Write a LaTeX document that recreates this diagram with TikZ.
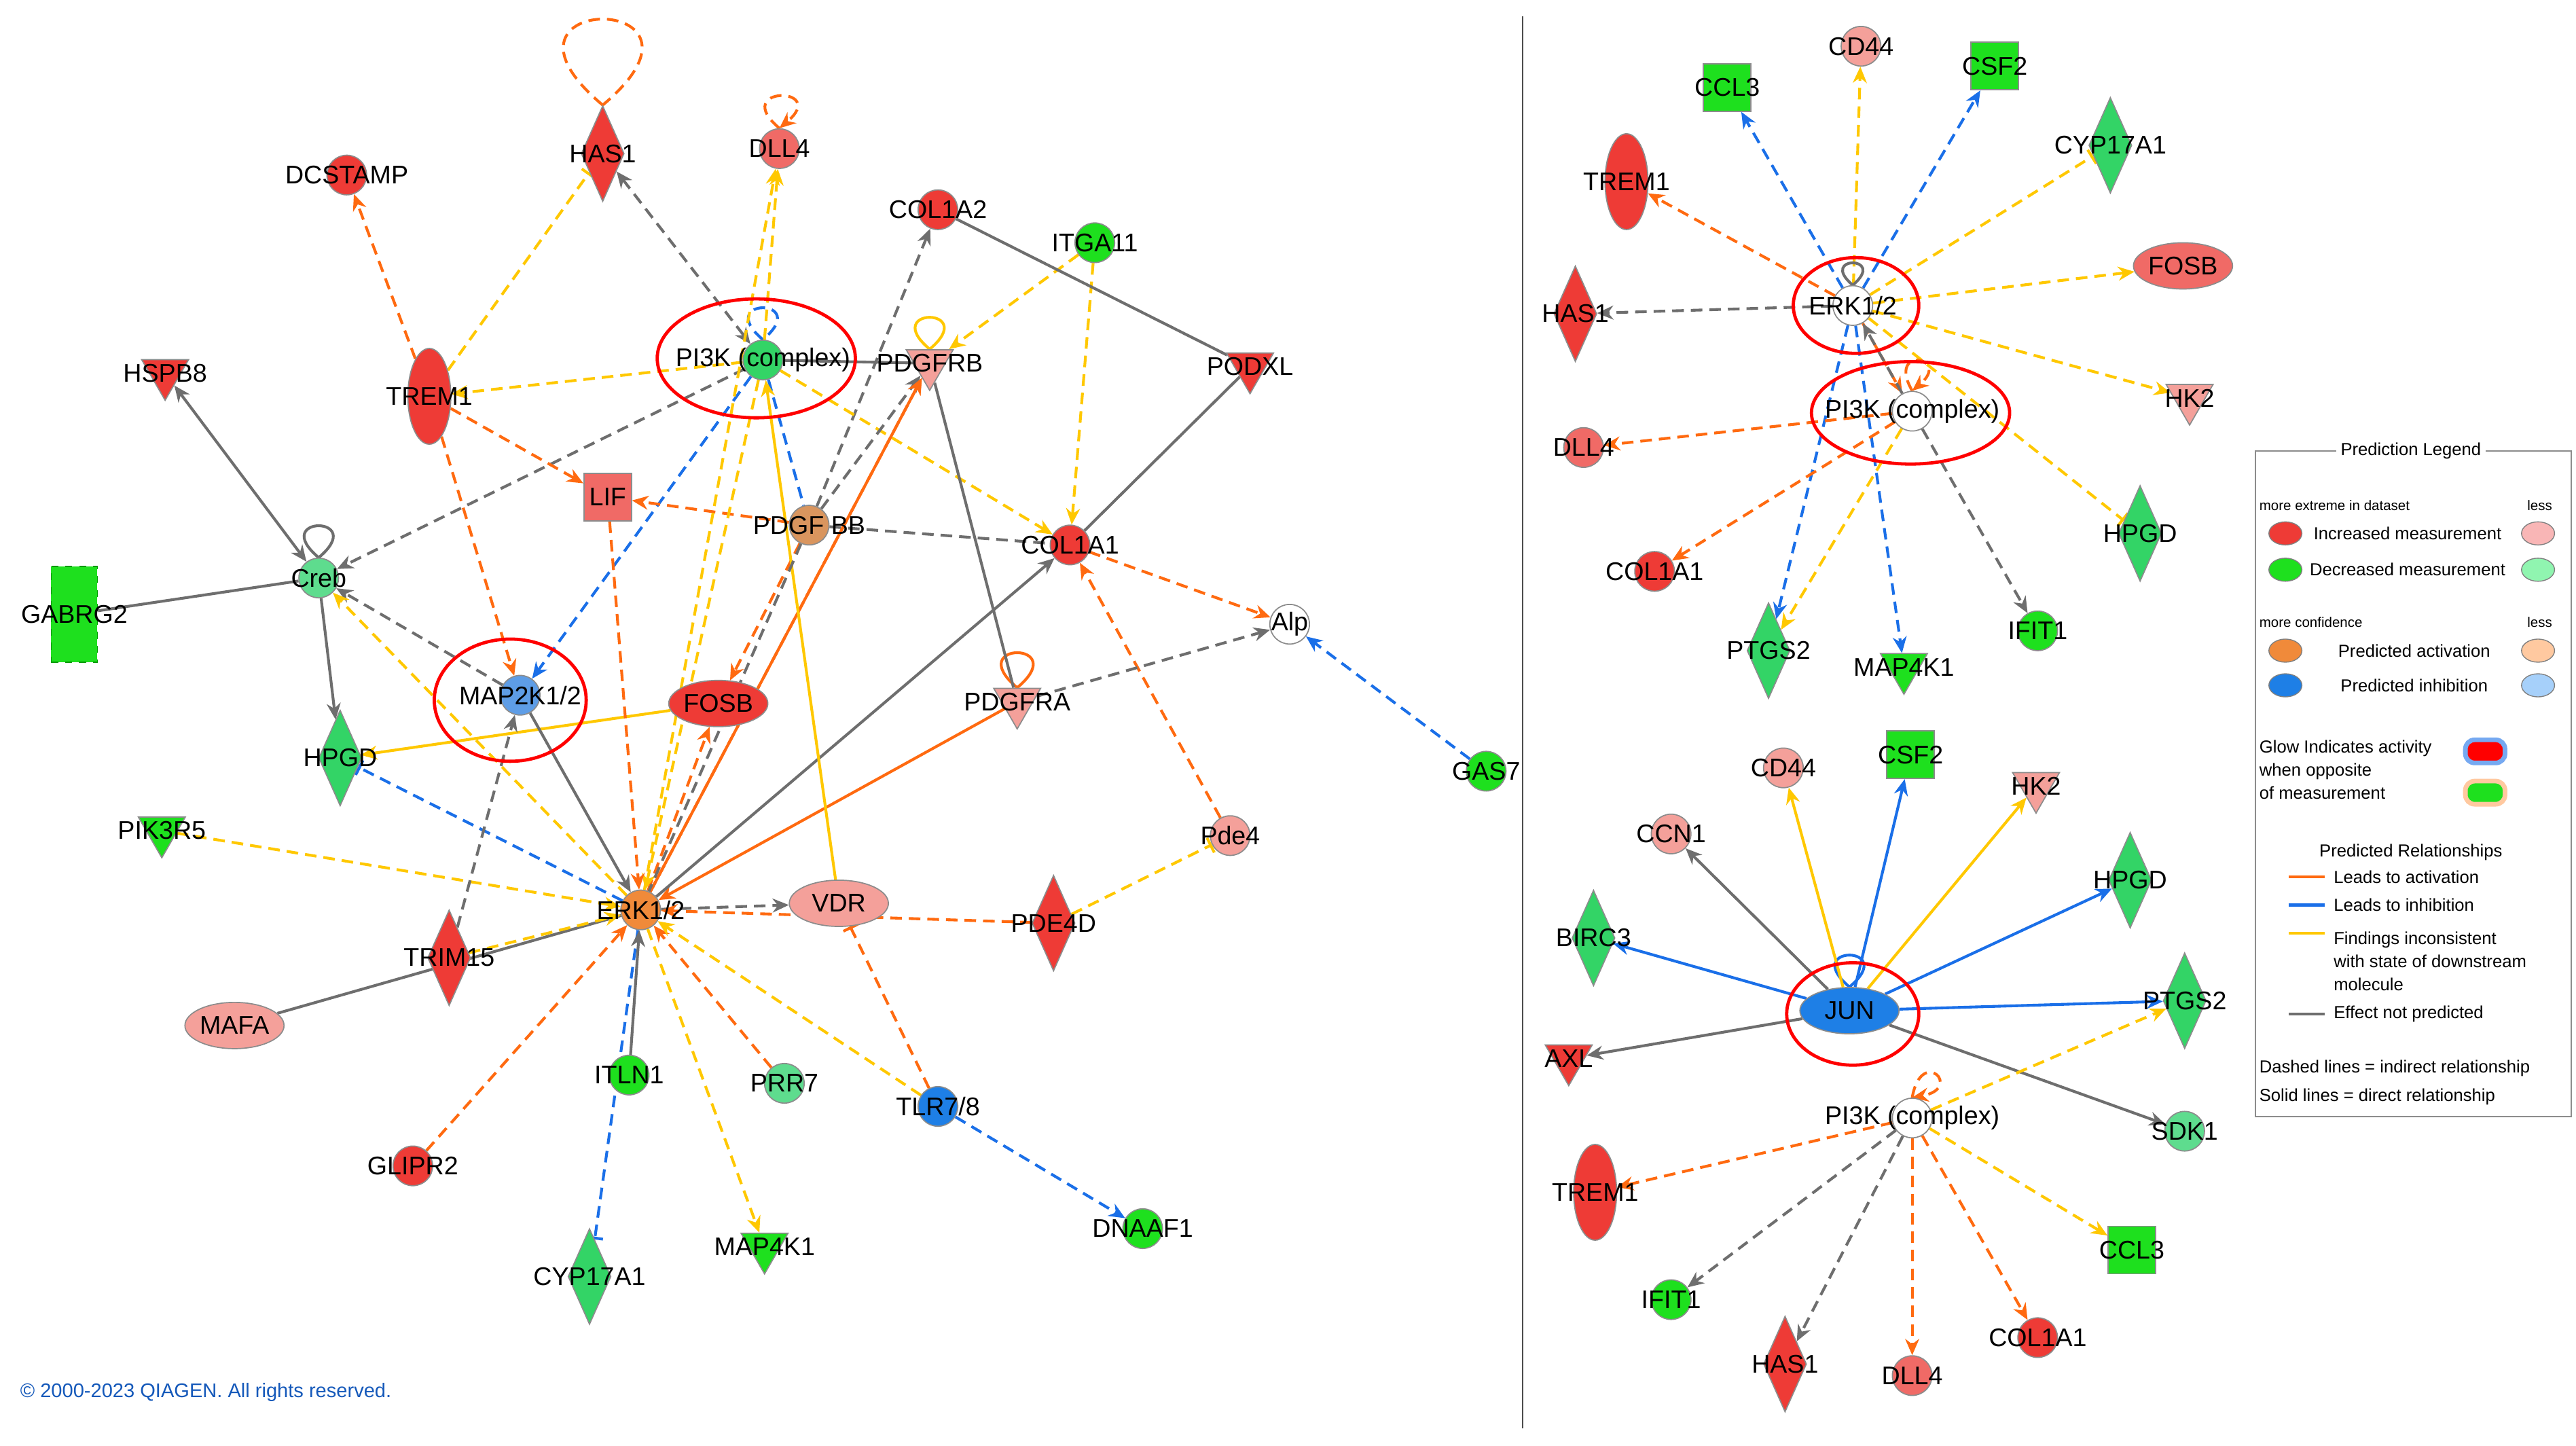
\documentclass[tikz,border=0pt]{standalone}
\usepackage{fontspec}
\setmainfont{Liberation Sans}
\usetikzlibrary{shapes.geometric,arrows.meta}
\pgfdeclarelayer{edges}
\pgfdeclarelayer{lab}
\pgfsetlayers{edges,main,lab}
\definecolor{cO}{HTML}{FF6A10}
\definecolor{cB}{HTML}{1A6FE8}
\definecolor{cY}{HTML}{FFC800}
\definecolor{cG}{HTML}{6E6E6E}
\definecolor{fR}{HTML}{EE3B36}
\definecolor{fR2}{HTML}{F06A66}
\definecolor{fP}{HTML}{F4A09A}
\definecolor{fG}{HTML}{1EE01E}
\definecolor{fLG}{HTML}{5EDC8E}
\definecolor{fMG}{HTML}{33D466}
\definecolor{fOr}{HTML}{F08A3A}
\definecolor{fBr}{HTML}{D9955E}
\definecolor{fLB}{HTML}{5E9DE6}
\definecolor{fBl}{HTML}{1E7FE6}
\definecolor{fPe}{HTML}{FFC9A0}
\definecolor{fLBl}{HTML}{A6D0FA}
\definecolor{fLGr}{HTML}{90F5B0}
\definecolor{fLP}{HTML}{F9B6B6}
\tikzset{
 lbl/.style={font=\fontsize{11}{13}\selectfont, text=black},
 nd/.style={draw=black!45, line width=0.5pt, inner sep=0pt},
 cir/.style={nd, circle, minimum size=0.6cm},
 dia/.style={nd, diamond, minimum width=0.65cm, minimum height=1.45cm},
 tri/.style={nd, regular polygon, regular polygon sides=3, shape border rotate=180, minimum size=0.82cm},
 ell/.style={nd, ellipse, minimum width=1.5cm, minimum height=0.7cm},
 vel/.style={nd, ellipse, minimum width=0.65cm, minimum height=1.45cm},
 sq/.style={nd, rectangle, minimum size=0.72cm},
 hl/.style={draw=red, line width=1.4pt, ellipse, fill=none},
 E/.style={line width=1.2pt, -{Stealth[length=7pt,width=6pt]}},
 O/.style={E, cO}, B/.style={E, cB}, Y/.style={E, cY}, G/.style={E, cG},
 D/.style={dash pattern=on 5pt off 3pt},
 T/.style={-{Bar[width=7pt,line width=1.2pt]}},
 N/.style={-},
 BI/.style={{Stealth[length=7pt,width=6pt]}-{Stealth[length=7pt,width=6pt]}},
 lg/.style={font=\fontsize{7.5}{9}\selectfont, inner sep=0pt},
 lgs/.style={font=\fontsize{6}{7}\selectfont, inner sep=0pt},
 lgel/.style={ellipse, draw=black!50, minimum width=0.5cm, minimum height=0.35cm, inner sep=0pt},
}
\newcommand{\gene}[5]{\node[#3, fill=#4] (#1) at (#2) {}; \begin{pgfonlayer}{lab}\node[lbl] at (#1.center) {#5};\end{pgfonlayer}}
\begin{document}
\begin{tikzpicture}[x=0.025cm,y=-0.025cm]
\useasboundingbox (0,0) rectangle (1560,875.6);
\begin{pgfonlayer}{edges}
\fill[white] (0,0) rectangle (1560,875.6);
\end{pgfonlayer}
\draw[black!70, line width=0.6pt] (922,10) -- (922,865);
% ===== left panel nodes =====
\gene{HAS1}{365,93}{dia}{fR}{HAS1}
\gene{DLL4}{472,90}{cir}{fR2}{DLL4}
\gene{DCSTAMP}{210,106}{cir}{fR}{DCSTAMP}
\gene{COL1A2}{568,127}{cir}{fR}{COL1A2}
\gene{ITGA11}{663,147}{cir}{fG}{ITGA11}
\gene{HSPB8}{100,226}{tri}{fR}{HSPB8}
\gene{TREM1}{260,240}{vel}{fR}{TREM1}
\gene{PI3K}{462,218}{cir}{fMG}{PI3K (complex)}
\gene{PDGFRB}{563,220}{tri}{fP}{PDGFRB}
\gene{PODXL}{757,222}{tri}{fR}{PODXL}
\gene{LIF}{368,301}{sq}{fR2}{LIF}
\gene{PDGFBB}{490,318}{cir}{fBr}{PDGF BB}
\gene{COL1A1}{648,330}{cir}{fR}{COL1A1}
\node[nd, rectangle, fill=fG, dashed, draw=green!60!black, minimum width=0.7cm, minimum height=1.45cm] (GABRG2) at (45,372) {};
\begin{pgfonlayer}{lab}\node[lbl] at (GABRG2) {GABRG2};\end{pgfonlayer}
\gene{Creb}{193,350}{cir}{fLG}{Creb}
\gene{Alp}{781,378}{cir}{white}{Alp}
\gene{MAP2K}{315,421}{cir}{fLB}{MAP2K1/2}
\gene{FOSB}{435,426}{ell}{fR}{FOSB}
\gene{PDGFRA}{616,425}{tri}{fP}{PDGFRA}
\gene{HPGD}{206,459}{dia}{fMG}{HPGD}
\gene{GAS7}{900,467}{cir}{fG}{GAS7}
\gene{Pde4}{745,506}{cir}{fP}{Pde4}
\gene{PIK3R5}{98,503}{tri}{fG}{PIK3R5}
\gene{ERK}{388,551}{cir}{fOr}{ERK1/2}
\gene{VDR}{508,547}{ell}{fP}{VDR}
\gene{PDE4D}{638,559}{dia}{fR}{PDE4D}
\gene{TRIM15}{272,580}{dia}{fR}{TRIM15}
\gene{MAFA}{142,621}{ell}{fP}{MAFA}
\gene{ITLN1}{381,651}{cir}{fG}{ITLN1}
\gene{PRR7}{475,656}{cir}{fLG}{PRR7}
\gene{TLR}{568,670}{cir}{fBl}{TLR7/8}
\gene{GLIPR2}{250,706}{cir}{fR}{GLIPR2}
\gene{DNAAF1}{692,744}{cir}{fG}{DNAAF1}
\gene{CYP}{357,773}{dia}{fMG}{CYP17A1}
\gene{MAP4K1}{463,755}{tri}{fG}{MAP4K1}
\draw[hl] (458,217) ellipse [x radius=60, y radius=36];
\draw[hl] (309,424) ellipse [x radius=46, y radius=37];
% ===== left edges =====
\begin{pgfonlayer}{edges}
\draw[O,D,N] (HAS1.north) to[loop,out=140,in=40,min distance=2.7cm] (HAS1.north);
\draw[O,D] (DLL4.north) to[loop,out=140,in=40,min distance=1cm] (DLL4.north);
\draw[B,D,N] (PI3K.north) to[loop,out=140,in=40,min distance=1cm] (PI3K.north);
\draw[Y,N] (PDGFRB.north) to[loop,out=140,in=40,min distance=1cm] (PDGFRB.north);
\draw[O,N] (PDGFRA.north) to[loop,out=140,in=40,min distance=1.1cm] (PDGFRA.north);
\draw[G,N] (Creb.north) to[loop,out=140,in=40,min distance=1cm] (Creb.north);
\draw[O,D] (TREM1) -- (DCSTAMP);
\draw[Y,D,T] (TREM1) -- (HAS1);
\draw[G,D,BI] (HAS1) -- (PI3K);
\draw[Y,D] (PI3K) -- (DLL4);
\draw[Y,D] (PI3K) -- (TREM1);
\draw[G,D] (PDGFBB) -- (COL1A2);
\draw[Y,D] (ITGA11) -- (PDGFRB);
\draw[Y,D] (ITGA11) -- (COL1A1);
\draw[G,N] (COL1A2) -- (PODXL);
\draw[G,N] (PODXL) -- (COL1A1);
\draw[Y,D] (PI3K) -- (COL1A1);
\draw[G,N] (PI3K) -- (PDGFRB);
\draw[G,D] (PI3K) -- (Creb);
\draw[B,D] (PI3K) -- (MAP2K);
\draw[O,D] (TREM1) -- (LIF);
\draw[O,D] (TREM1) -- (MAP2K);
\draw[O,D] (PDGFBB) -- (LIF);
\draw[G,D,N] (PDGFBB) -- (COL1A1);
\draw[B,D,N] (PI3K) -- (PDGFBB);
\draw[O,D] (PDGFBB) -- (FOSB);
\draw[G,D] (PDGFBB) -- (PDGFRB);
\draw[G,BI] (HSPB8) -- (Creb);
\draw[G,N] (GABRG2) -- (Creb);
\draw[G] (Creb) -- (HPGD);
\draw[G,D] (MAP2K) -- (Creb);
\draw[Y,D] (ERK) -- (Creb);
\draw[Y] (FOSB) -- (HPGD);
\draw[B,D,T] (ERK) -- (HPGD);
\draw[Y,D] (PIK3R5) -- (ERK);
\draw[G] (MAP2K) -- (ERK);
\draw[G,D] (TRIM15) -- (MAP2K);
\draw[G,N] (MAFA) -- (ERK);
\draw[Y,D] (TRIM15) -- (ERK);
\draw[O,D] (GLIPR2) -- (ERK);
\draw[B,D,T] (ERK) -- (CYP);
\draw[Y,D] (ERK) -- (MAP4K1);
\draw[O,D] (PRR7) -- (ERK);
\draw[Y,D] (TLR) -- (ERK);
\draw[B,D] (TLR) -- (DNAAF1);
\draw[O,D,T] (TLR) -- (VDR);
\draw[G,D] (ERK) -- (VDR);
\draw[O,D] (PDE4D) -- (ERK);
\draw[Y,D,T] (PDE4D) -- (Pde4);
\draw[O,D] (Pde4) -- (COL1A1);
\draw[G,D] (PDGFRA) -- (Alp);
\draw[O,D] (COL1A1) -- (Alp);
\draw[B,D] (GAS7) -- (Alp);
\draw[O] (PDGFRA) -- (ERK);
\draw[G] (ERK) -- (COL1A1);
\draw[G,N] (PDGFRB) -- (PDGFRA);
\draw[O] (ERK) -- (PDGFRB);
\draw[O,D] (ERK) -- (PDGFRB);
\draw[Y] (VDR) -- (PI3K);
\draw[O,D] (ERK) -- (FOSB);
\draw[Y,D] (PI3K) -- (ERK);
\draw[Y,D] (ERK) -- (DLL4);
\draw[O,D] (LIF) -- (ERK);
\draw[G,D,N] (PDGFBB) -- (ERK);
\draw[G] (ITLN1) -- (ERK);
\end{pgfonlayer}
% ===== right top =====
\gene{rERK}{1122,185}{cir}{white}{ERK1/2}
\gene{rPI3K}{1158,249}{cir}{white}{PI3K (complex)}
\gene{rCCL3}{1046,53}{sq}{fG}{CCL3}
\gene{rCD44}{1127,28}{cir}{fP}{CD44}
\gene{rCSF2}{1208,40}{sq}{fG}{CSF2}
\gene{rCYP}{1278,88}{dia}{fMG}{CYP17A1}
\gene{rTREM1}{985,110}{vel}{fR}{TREM1}
\gene{rFOSB}{1322,161}{ell}{fR2}{FOSB}
\gene{rHAS1}{954,190}{dia}{fR}{HAS1}
\gene{rHK2}{1326,241}{tri}{fP}{HK2}
\gene{rDLL4}{959,271}{cir}{fR2}{DLL4}
\gene{rHPGD}{1296,323}{dia}{fMG}{HPGD}
\gene{rCOL1A1}{1002,346}{cir}{fR}{COL1A1}
\gene{rPTGS2}{1071,394}{dia}{fMG}{PTGS2}
\gene{rMAP4K1}{1153,404}{tri}{fG}{MAP4K1}
\gene{rIFIT1}{1234,382}{cir}{fG}{IFIT1}
\draw[hl] (1124,185) ellipse [x radius=38, y radius=29];
\draw[hl] (1157,250) ellipse [x radius=60, y radius=31];
\begin{pgfonlayer}{edges}
\draw[B,D] (rERK) -- (rCCL3);
\draw[Y,D] (rERK) -- (rCD44);
\draw[B,D] (rERK) -- (rCSF2);
\draw[Y,D,T] (rERK) -- (rCYP);
\draw[O,D] (rERK) -- (rTREM1);
\draw[Y,D] (rERK) -- (rFOSB);
\draw[G,D] (rERK) -- (rHAS1);
\draw[Y,D] (rERK) -- (rHK2);
\draw[B,D] (rERK) -- (rPTGS2);
\draw[B,D] (rERK) -- (rMAP4K1);
\draw[Y,D,T] (rERK) -- (rHPGD);
\draw[O,D] (rERK) -- (rPI3K);
\draw[G,D] (rPI3K) -- (rERK);
\draw[G,N] (rERK.north) to[loop,out=140,in=40,min distance=0.7cm] (rERK.north);
\draw[O,D] (rPI3K.north) to[loop,out=120,in=40,min distance=0.8cm] (rPI3K.north);
\draw[O,D] (rPI3K) -- (rDLL4);
\draw[O,D] (rPI3K) -- (rCOL1A1);
\draw[Y,D] (rPI3K) -- (rPTGS2);
\draw[G,D] (rPI3K) -- (rIFIT1);
\end{pgfonlayer}
% ===== right bottom =====
\gene{JUN}{1120,612}{ell}{fBl}{JUN}
\gene{sCD44}{1080,465}{cir}{fP}{CD44}
\gene{sCSF2}{1157,457}{sq}{fG}{CSF2}
\gene{sHK2}{1233,476}{tri}{fP}{HK2}
\gene{sCCN1}{1012,505}{cir}{fP}{CCN1}
\gene{sHPGD}{1290,533}{dia}{fMG}{HPGD}
\gene{sBIRC3}{965,568}{dia}{fMG}{BIRC3}
\gene{sPTGS2}{1323,606}{dia}{fMG}{PTGS2}
\gene{sAXL}{950,641}{tri}{fR}{AXL}
\gene{sSDK1}{1323,685}{cir}{fLG}{SDK1}
\gene{sPI3K}{1158,677}{cir}{white}{PI3K (complex)}
\gene{sTREM1}{966,722}{vel}{fR}{TREM1}
\gene{sIFIT1}{1012,787}{cir}{fG}{IFIT1}
\gene{sCCL3}{1291,757}{sq}{fG}{CCL3}
\gene{sHAS1}{1081,826}{dia}{fR}{HAS1}
\gene{sDLL4}{1158,833}{cir}{fR2}{DLL4}
\gene{sCOL1A1}{1234,810}{cir}{fR}{COL1A1}
\draw[hl] (1122,614) ellipse [x radius=40, y radius=31];
\begin{pgfonlayer}{edges}
\draw[B,N] (JUN.north) to[loop,out=140,in=40,min distance=1cm] (JUN.north);
\draw[Y] (JUN) -- (sCD44);
\draw[B] (JUN) -- (sCSF2);
\draw[Y] (JUN) -- (sHK2);
\draw[G] (JUN) -- (sCCN1);
\draw[B] (JUN) -- (sHPGD);
\draw[B] (JUN) -- (sBIRC3);
\draw[B] (JUN) -- (sPTGS2);
\draw[G] (JUN) -- (sAXL);
\draw[G] (JUN) -- (sSDK1);
\draw[O,D] (sPI3K.north) to[loop,out=80,in=10,min distance=0.8cm] (sPI3K.north);
\draw[Y,D] (sPI3K) -- (sPTGS2);
\draw[O,D] (sPI3K) -- (sTREM1);
\draw[G,D] (sPI3K) -- (sIFIT1);
\draw[G,D] (sPI3K) -- (sHAS1);
\draw[O,D] (sPI3K) -- (sDLL4);
\draw[O,D] (sPI3K) -- (sCOL1A1);
\draw[Y,D] (sPI3K) -- (sCCL3);
\end{pgfonlayer}
% ===== legend =====
\draw[black!45, line width=0.6pt] (1366,273) rectangle (1557,676);
\node[lg, fill=white, inner sep=2pt] at (1460,273) {Prediction Legend};
\node[lgs, anchor=west] at (1368,306) {more extreme in dataset};
\node[lgs] at (1538,306) {less};
\node[lgel, fill=fR] (l1) at (1384,323) {}; \node[lg] at (1458,323) {Increased measurement}; \node[lgel, fill=fLP] (l2) at (1537,323) {};
\node[lgel, fill=fG] (l3) at (1384,345) {}; \node[lg] at (1458,345) {Decreased measurement}; \node[lgel, fill=fLGr] (l4) at (1537,345) {};
\node[lgs, anchor=west] at (1368,377) {more confidence};
\node[lgs] at (1538,377) {less};
\node[lgel, fill=fOr] (l5) at (1384,394) {}; \node[lg] at (1462,394) {Predicted activation}; \node[lgel, fill=fPe] (l6) at (1537,394) {};
\node[lgel, fill=fBl] (l7) at (1384,415) {}; \node[lg] at (1462,415) {Predicted inhibition}; \node[lgel, fill=fLBl] (l8) at (1537,415) {};
\node[lg, anchor=west, align=left] at (1368,466) {Glow Indicates activity\\[1pt]when opposite\\[1pt]of measurement};
\node[rounded corners=4pt, fill=red, draw=cB!60, line width=2pt, minimum width=0.6cm, minimum height=0.35cm] (g1) at (1505,455) {};
\node[rounded corners=4pt, fill=fG, draw=fPe, line width=2pt, minimum width=0.6cm, minimum height=0.35cm] (g2) at (1505,480) {};
\node[lg] at (1460,516) {Predicted Relationships};
\coordinate (a1) at (1386,531); \coordinate (a2) at (1408,531);
\coordinate (b1) at (1386,548); \coordinate (b2) at (1408,548);
\coordinate (c1) at (1386,565); \coordinate (c2) at (1408,565);
\coordinate (d1) at (1386,614); \coordinate (d2) at (1408,614);
\draw[cO, line width=1.3pt] (a1) -- (a2);
\draw[cB, line width=1.3pt] (b1) -- (b2);
\draw[cY, line width=1.3pt] (c1) -- (c2);
\draw[cG, line width=1.3pt] (d1) -- (d2);
\node[lg, anchor=west] at (1413,531) {Leads to activation};
\node[lg, anchor=west] at (1413,548) {Leads to inhibition};
\node[lg, anchor=west, align=left] at (1413,582) {Findings inconsistent\\[1pt]with state of downstream\\[1pt]molecule};
\node[lg, anchor=west] at (1413,614) {Effect not predicted};
\node[lg, anchor=west] at (1368,647) {Dashed lines = indirect relationship};
\node[lg, anchor=west] at (1368,664) {Solid lines = direct relationship};
\node[anchor=west, inner sep=0pt, text=cB!80!black, font=\fontsize{8.5}{10}\selectfont] at (12,843) {\textcopyright{} 2000-2023 QIAGEN. All rights reserved.};
\end{tikzpicture}
\end{document}
